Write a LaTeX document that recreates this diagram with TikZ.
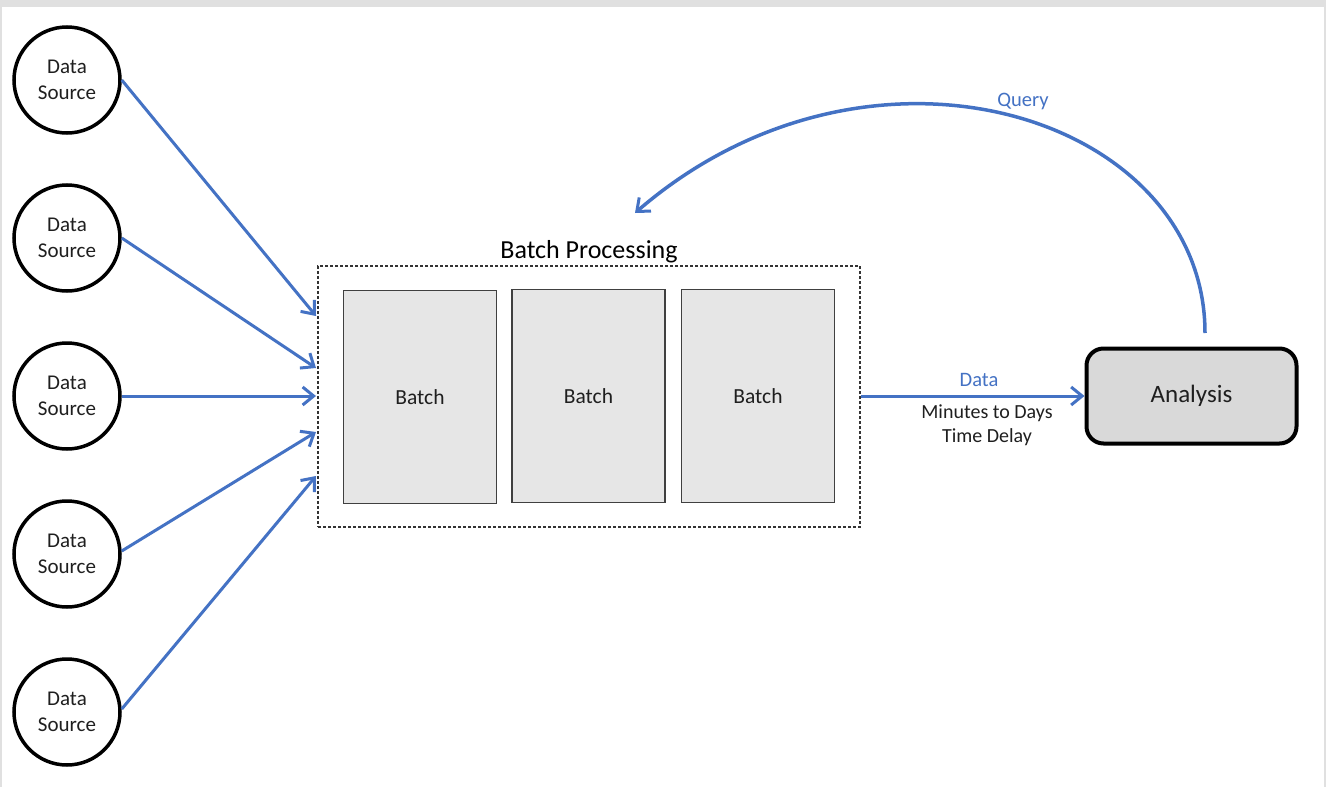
\documentclass[tikz,border=0pt]{standalone}
\usepackage{fontspec}
\setmainfont{Carlito}
\usetikzlibrary{arrows.meta}
\definecolor{flowblue}{HTML}{4472C4}
\definecolor{inkgray}{HTML}{1F1F1F}
\definecolor{batchfill}{HTML}{E6E6E6}
\definecolor{anfill}{HTML}{D9D9D9}
\definecolor{framegray}{HTML}{E0E0E0}
\tikzset{
  src/.style={circle, draw=black, line width=3.5pt, minimum size=106pt, inner sep=0pt,
    align=center, font=\fontsize{21}{26}\selectfont, text=inkgray},
  batchbox/.style={draw=black!75, line width=1.8pt, fill=batchfill,
    minimum width=153pt, minimum height=213pt, inner sep=0pt,
    font=\fontsize{21.5}{26}\selectfont, text=inkgray},
  group/.style={draw=black!80, line width=1.4pt, dash pattern=on 3pt off 2pt,
    minimum width=542pt, minimum height=261pt, inner sep=0pt},
  sink/.style={draw=black, line width=4pt, fill=anfill, rounded corners=17pt,
    minimum width=210pt, minimum height=95pt, font=\fontsize{25}{30}\selectfont, text=inkgray},
  flow/.style={draw=flowblue, line width=3pt,
    -{Straight Barb[length=11pt,width=18pt,line width=3pt]}},
  bluelabel/.style={text=flowblue, font=\fontsize{20.5}{24}\selectfont},
  note/.style={text=inkgray, align=center, font=\fontsize{20}{24}\selectfont}
}
\begin{document}
\begin{tikzpicture}[x=1pt, y=-1pt]
\useasboundingbox (0,0) rectangle (1326,787);
% page frame
\fill[white] (0,0) rectangle (1326,787);
\fill[framegray] (0,0) rectangle (1326,7);
\fill[framegray] (0,7) rectangle (1.5,787);
\fill[framegray] (1324,7) rectangle (1326,787);

% data sources
\node[src] (s1) at (67,80)  {Data\\Source};
\node[src] (s2) at (67,238) {Data\\Source};
\node[src] (s3) at (67,396) {Data\\Source};
\node[src] (s4) at (67,554) {Data\\Source};
\node[src] (s5) at (67,712) {Data\\Source};

% batch processing group
\node[group] (bp) at (589,396.5) {};
\node[font=\fontsize{26}{30}\selectfont, text=black] (bpt) at (589,252) {Batch Processing};
\node[batchbox] (b1) at (420,397) {Batch};
\node[batchbox] (b2) at (588.5,396) {Batch};
\node[batchbox] (b3) at (758,396) {Batch};

% analysis
\node[sink] (an) at (1191.5,396) {Analysis};

% inputs into the group
\coordinate (e1) at (316,316);
\coordinate (e2) at (316,368);
\coordinate (e3) at (316,396);
\coordinate (e4) at (316,432);
\coordinate (e5) at (316,476);
\draw[flow] (s1.east) -- (e1);
\draw[flow] (s2.east) -- (e2);
\draw[flow] (s3.east) -- (e3);
\draw[flow] ([yshift=3pt]s4.east) -- (e4);
\draw[flow] ([yshift=3pt]s5.east) -- (e5);

% output to analysis
\draw[flow] (bp.east |- an.west) -- (an.west);
\node[bluelabel] (dl) at (979,380) {Data};
\node[note] (dn) at (987,425) {Minutes to Days\\Time Delay};

% query loop back
\coordinate (qs) at (1205,333);
\coordinate (qe) at (635,213);
\draw[flow, line width=3.5pt] (qs) .. controls (1205,115) and (870,10) .. (qe);
\node[bluelabel] (ql) at (1023,101) {Query};
\end{tikzpicture}
\end{document}
